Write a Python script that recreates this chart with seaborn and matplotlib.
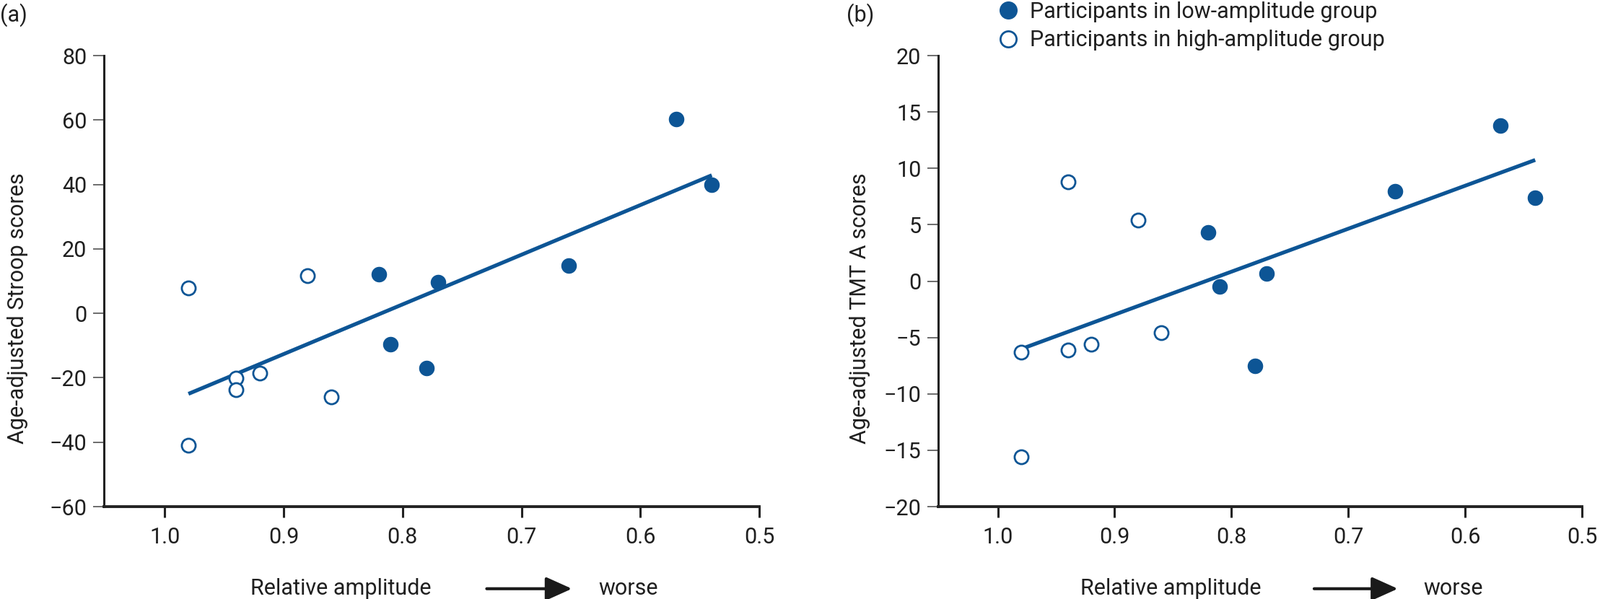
import numpy as np
import pandas as pd
import matplotlib
matplotlib.use('Agg')
import matplotlib.pyplot as plt
from matplotlib.lines import Line2D
import seaborn as sns

# values
rel_amp = [0.98, 0.98, 0.94, 0.94, 0.92, 0.88, 0.86,
           0.82, 0.81, 0.78, 0.77, 0.66, 0.57, 0.54]
group = ['high'] * 7 + ['low'] * 7
stroop = [7.9, -41.0, -20.1, -23.6, -18.5, 11.6, -25.9,
          12.1, -9.7, -17.1, 9.7, 14.8, 60.2, 39.8]
tmt_a = [-6.3, -15.6, 8.8, -6.1, -5.6, 5.4, -4.6,
         4.3, -0.5, -7.5, 0.7, 8.0, 13.8, 7.4]

stroop_ticks = [-60, -40, -20, 0, 20, 40, 60, 80]
tmt_ticks = [-20, -15, -10, -5, 0, 5, 10, 15, 20]
x_ticks = [1.0, 0.9, 0.8, 0.7, 0.6, 0.5]

df = pd.DataFrame({'amp': rel_amp, 'group': group,
                   'stroop': stroop, 'tmt': tmt_a})

blue = '#0d5595'
txt = '#1f1f1f'
fs = 22

sns.set_style('ticks')
plt.rcParams['font.family'] = ['Roboto', 'DejaVu Sans']
plt.rcParams['font.weight'] = 'normal'
plt.rcParams['font.size'] = fs
plt.rcParams['axes.unicode_minus'] = True

fig = plt.figure(figsize=(22.17, 8.3), dpi=100)
ax_a = fig.add_axes([0.0650, 0.1542, 0.4096, 0.7530])
ax_b = fig.add_axes([0.5864, 0.1542, 0.4023, 0.7530])


def panel(ax, col, yticks, ylabel, lab_x):
    low = df[df['group'] == 'low']
    high = df[df['group'] == 'high']
    sns.regplot(data=df, x='amp', y=col, ax=ax, scatter=False, ci=None,
                line_kws=dict(color=blue, lw=3.8, solid_capstyle='butt'))
    sns.scatterplot(data=low, x='amp', y=col, ax=ax, s=210, color=blue,
                    edgecolor=blue, linewidth=1, zorder=3)
    sns.scatterplot(data=high, x='amp', y=col, ax=ax, s=190, facecolor='white',
                    edgecolor=blue, linewidth=2.0, zorder=3)
    ax.set_xlim(1.051, 0.5)
    ax.set_ylim(yticks[0], yticks[-1])
    ax.set_xticks(x_ticks)
    ax.set_xticklabels([f'{v:.1f}' for v in x_ticks])
    ax.set_yticks(yticks)
    ax.set_xlabel('')
    ax.set_ylabel(ylabel, color=txt, fontsize=fs)
    ax.yaxis.set_label_coords(lab_x, 0.44)
    sns.despine(ax=ax)
    ax.spines['left'].set_linewidth(2.2)
    ax.spines['bottom'].set_linewidth(2.8)
    ax.spines['left'].set_color('#222222')
    ax.spines['bottom'].set_color('#222222')
    ax.tick_params(axis='y', length=11, width=1.1, color='#444444',
                   labelcolor=txt, labelsize=fs, pad=6)
    ax.tick_params(axis='x', length=11, width=2.2, color='#222222',
                   labelcolor=txt, labelsize=fs, pad=9)

    # x axis caption with arrow
    ax.text(0.361, -0.182, 'Relative amplitude', transform=ax.transAxes,
            ha='center', va='center', color=txt, fontsize=fs)
    ax.annotate('', xy=(0.714, -0.182), xytext=(0.584, -0.182),
                xycoords='axes fraction', textcoords='axes fraction',
                arrowprops=dict(arrowstyle='-|>,head_length=1.0,head_width=0.45',
                                color='#1a1a1a', lw=3.0, shrinkA=0, shrinkB=0),
                annotation_clip=False)
    ax.text(0.80, -0.182, 'worse', transform=ax.transAxes,
            ha='center', va='center', color=txt, fontsize=fs)


panel(ax_a, 'stroop', stroop_ticks, 'Age-adjusted Stroop scores', -0.116)
panel(ax_b, 'tmt', tmt_ticks, 'Age-adjusted TMT A scores', -0.105)

fig.text(0.0, 0.995, '(a)', ha='left', va='top', color=txt, fontsize=fs)
fig.text(0.529, 0.995, '(b)', ha='left', va='top', color=txt, fontsize=fs)

handles = [
    Line2D([], [], ls='none', marker='o', ms=17, color=blue, mfc=blue, mec=blue,
           label='Participants in low-amplitude group'),
    Line2D([], [], ls='none', marker='o', ms=16, color=blue, mfc='white', mec=blue,
           mew=2.0, label='Participants in high-amplitude group'),
]
leg = ax_b.legend(handles=handles, loc='upper left', bbox_to_anchor=(0.075, 1.14),
                  frameon=False, borderaxespad=0, handletextpad=0.35,
                  labelspacing=0.35, handlelength=1.2, fontsize=fs)
for t in leg.get_texts():
    t.set_color(txt)

fig.savefig('out.png', dpi=100)
